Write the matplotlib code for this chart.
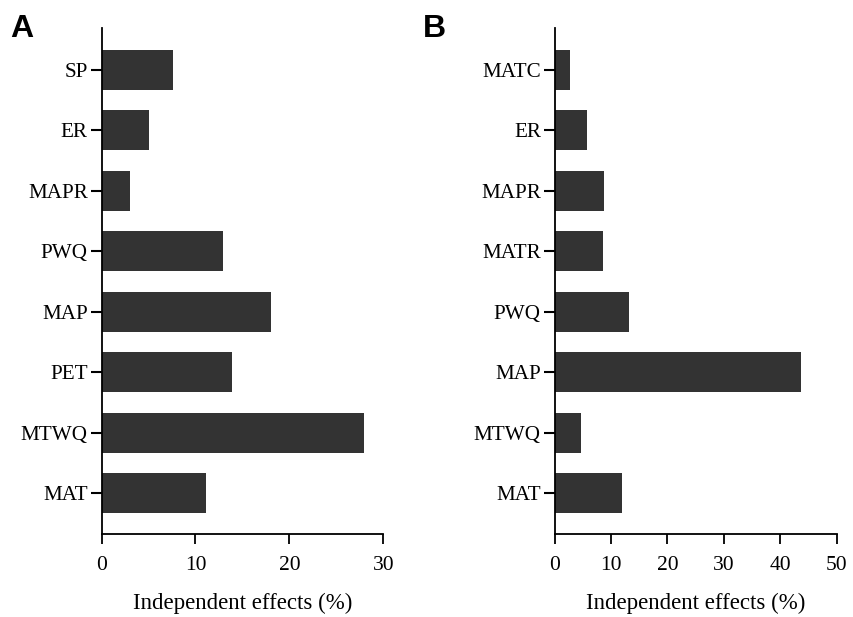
import matplotlib.pyplot as plt

# Panel A: independent effects (%)
labels_a = ["MAT", "MTWQ", "PET", "MAP", "PWQ", "MAPR", "ER", "SP"]
values_a = [11.1, 28.0, 13.9, 18.0, 12.9, 3.0, 5.1, 7.6]

# Panel B
labels_b = ["MAT", "MTWQ", "MAP", "PWQ", "MATR", "MAPR", "ER", "MATC"]
values_b = [12.0, 4.7, 43.6, 13.1, 8.6, 8.7, 5.7, 2.8]

xticks_a = [0, 10, 20, 30]
xticks_b = [0, 10, 20, 30, 40, 50]

plt.rcParams["font.family"] = ["Liberation Serif", "DejaVu Serif"]

fig = plt.figure(figsize=(8.54, 6.17), dpi=100)
ax_a = fig.add_axes([0.119, 0.1345, 0.3297, 0.820])
ax_b = fig.add_axes([0.6495, 0.1345, 0.3302, 0.820])


def draw_panel(ax, labels, values, xticks):
    pos = list(range(len(labels)))
    ax.barh(pos, values, height=0.66, color="#333333")
    ax.set_yticks(pos)
    ax.set_yticklabels(labels)
    ax.set_ylim(-0.67, len(labels) - 1 + 0.69)
    ax.set_xlim(xticks[0], xticks[-1])
    ax.set_xticks(xticks)
    for side in ("top", "right"):
        ax.spines[side].set_visible(False)
    for side in ("left", "bottom"):
        ax.spines[side].set_linewidth(1.3)
    ax.tick_params(axis="y", length=8, width=1.5, pad=2, labelsize=15.2)
    ax.tick_params(axis="x", length=7.5, width=1.3, pad=8, labelsize=15.5)
    ax.set_xlabel("Independent effects (%)", fontsize=16.5, labelpad=13)


draw_panel(ax_a, labels_a, values_a, xticks_a)
draw_panel(ax_b, labels_b, values_b, xticks_b)

fig.text(10 / 854, 1 - 14 / 617, "A", fontsize=23, fontweight="bold",
         family="Liberation Sans", va="top", ha="left")
fig.text(423 / 854, 1 - 14 / 617, "B", fontsize=23, fontweight="bold",
         family="Liberation Sans", va="top", ha="left")

fig.savefig("out.png", dpi=100)
